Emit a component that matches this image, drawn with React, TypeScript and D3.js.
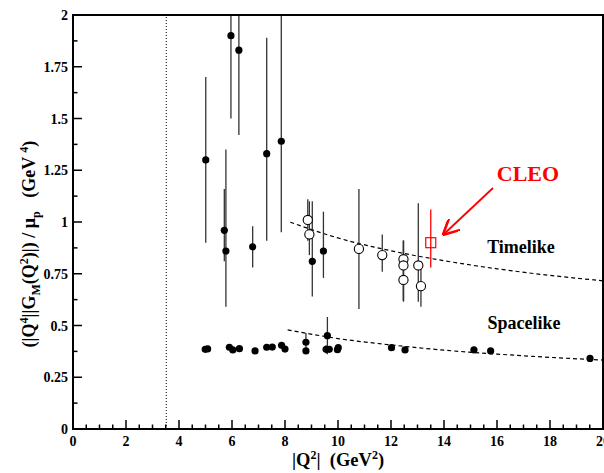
import React from "react";
import * as d3 from "d3";

// Timelike form factor, filled markers
const tlQ2 = [5.01, 5.96, 6.26, 7.31, 7.86, 5.71, 5.77, 6.78, 9.03, 9.45];
const tlVal = [1.3, 1.9, 1.83, 1.33, 1.39, 0.96, 0.86, 0.88, 0.81, 0.86];
const tlErrHi = [0.4, 0.4, 0.4, 0.56, 0.65, 0.2, 0.49, 0.1, 0.29, 0.19];
const tlErrLo = [0.4, 0.4, 0.41, 0.42, 0.44, 0.15, 0.27, 0.1, 0.17, 0.13];

// Timelike form factor, open markers
const tlOpenQ2 = [8.86, 8.92, 10.79, 11.67, 12.47, 12.47, 12.47, 13.03, 13.13];
const tlOpenVal = [1.01, 0.94, 0.87, 0.84, 0.82, 0.79, 0.72, 0.79, 0.69];
const tlOpenErrHi = [0.1, 0.16, 0.29, 0.1, 0.09, 0.12, 0.19, 0.3, 0.12];
const tlOpenErrLo = [0.1, 0.1, 0.29, 0.08, 0.2, 0.175, 0.1, 0.175, 0.1];

// CLEO measurement
const cleoQ2 = [13.5];
const cleoVal = [0.9];
const cleoErrHi = [0.16];
const cleoErrLo = [0.12];

// Spacelike form factor
const slQ2 = [4.99, 5.08, 5.9, 6.03, 6.28, 6.87, 7.31, 7.52, 7.87, 8.0, 8.79, 8.79, 9.6, 9.55, 9.67, 10.01, 9.98, 12.02, 12.53, 15.13, 15.76, 19.51];
const slVal = [0.385, 0.387, 0.395, 0.382, 0.388, 0.377, 0.395, 0.396, 0.404, 0.386, 0.419, 0.377, 0.451, 0.385, 0.385, 0.393, 0.383, 0.393, 0.382, 0.382, 0.377, 0.341];
const slErr = [0.01, 0.01, 0.01, 0.01, 0.01, 0.01, 0.01, 0.01, 0.01, 0.01, 0.045, 0.01, 0.09, 0.02, 0.01, 0.01, 0.01, 0.01, 0.01, 0.012, 0.01, 0.01];

// Dashed fit curves
const tlFitQ2 = [8.2, 10, 12, 14, 16, 18, 20];
const tlFitVal = [0.999, 0.923, 0.861, 0.813, 0.774, 0.742, 0.716];
const slFitQ2 = [8.1, 10, 12, 14, 16, 18, 20];
const slFitVal = [0.479, 0.437, 0.406, 0.381, 0.362, 0.346, 0.333];

// Threshold 4 m_p^2
const thresholdQ2 = 3.52;

const xTicks = [0, 2, 4, 6, 8, 10, 12, 14, 16, 18, 20];
const yTicks = [0, 0.25, 0.5, 0.75, 1, 1.25, 1.5, 1.75, 2];
const yTickLabels = ["0", "0.25", "0.5", "0.75", "1", "1.25", "1.5", "1.75", "2"];

const W = 604;
const H = 473;
const L = 73;
const R = 603;
const T = 15;
const B = 429;

const FONT = "'Liberation Serif', 'Times New Roman', serif";

export default function App() {
  const x = d3.scaleLinear().domain([0, 20]).range([L, R]);
  const y = d3.scaleLinear().domain([0, 2]).range([B, T]);

  const line = d3
    .line<[number, number]>()
    .x((d) => x(d[0]))
    .y((d) => y(d[1]))
    .curve(d3.curveMonotoneX);

  const xMinor = d3.range(0, 20.001, 0.5);
  const yMinor = d3.range(0, 2.001, 0.125);

  const errColor = "#333";

  return (
    <svg
      width={W}
      height={H}
      style={{ position: "absolute", left: 0, top: 0, background: "#fff" }}
      fontFamily={FONT}
    >
      <defs>
        <clipPath id="plotArea">
          <rect x={L} y={T} width={R - L} height={B - T} />
        </clipPath>
        <marker id="arrowHead" viewBox="0 0 10 10" refX="9" refY="5" markerWidth="9" markerHeight="9" orient="auto">
          <path d="M0,0 L10,5 L0,10" fill="none" stroke="#f00" strokeWidth="1.6" />
        </marker>
      </defs>

      {/* threshold line */}
      <line
        x1={x(thresholdQ2)}
        x2={x(thresholdQ2)}
        y1={B}
        y2={T}
        stroke="#000"
        strokeWidth={1}
        strokeDasharray="1,2"
      />

      <g clipPath="url(#plotArea)">
        {/* fit curves */}
        <path
          d={line(tlFitQ2.map((q, i) => [q, tlFitVal[i]]) as [number, number][]) || ""}
          fill="none"
          stroke="#000"
          strokeWidth={1.2}
          strokeDasharray="4,3"
        />
        <path
          d={line(slFitQ2.map((q, i) => [q, slFitVal[i]]) as [number, number][]) || ""}
          fill="none"
          stroke="#000"
          strokeWidth={1.2}
          strokeDasharray="4,3"
        />

        {/* error bars */}
        {tlQ2.map((q, i) => (
          <line key={"te" + i} x1={x(q)} x2={x(q)} y1={y(tlVal[i] + tlErrHi[i])} y2={y(tlVal[i] - tlErrLo[i])} stroke={errColor} strokeWidth={1.3} />
        ))}
        {tlOpenQ2.map((q, i) => (
          <line key={"oe" + i} x1={x(q)} x2={x(q)} y1={y(tlOpenVal[i] + tlOpenErrHi[i])} y2={y(tlOpenVal[i] - tlOpenErrLo[i])} stroke={errColor} strokeWidth={1.3} />
        ))}
        {slQ2.map((q, i) => (
          <line key={"se" + i} x1={x(q)} x2={x(q)} y1={y(slVal[i] + slErr[i])} y2={y(slVal[i] - slErr[i])} stroke={errColor} strokeWidth={1.3} />
        ))}
        {cleoQ2.map((q, i) => (
          <line key={"ce" + i} x1={x(q)} x2={x(q)} y1={y(cleoVal[i] + cleoErrHi[i])} y2={y(cleoVal[i] - cleoErrLo[i])} stroke="#f00" strokeWidth={1.3} />
        ))}

        {/* markers */}
        {tlQ2.map((q, i) => (
          <circle key={"tp" + i} cx={x(q)} cy={y(tlVal[i])} r={3.6} fill="#000" />
        ))}
        {tlOpenQ2.map((q, i) => (
          <circle key={"op" + i} cx={x(q)} cy={y(tlOpenVal[i])} r={4.6} fill="#fff" stroke="#000" strokeWidth={1.1} />
        ))}
        {slQ2.map((q, i) => (
          <circle key={"sp" + i} cx={x(q)} cy={y(slVal[i])} r={3.6} fill="#000" />
        ))}
        {cleoQ2.map((q, i) => (
          <rect key={"cp" + i} x={x(q) - 5} y={y(cleoVal[i]) - 5} width={10} height={10} fill="none" stroke="#f00" strokeWidth={1.2} />
        ))}
      </g>

      {/* ticks */}
      {xMinor.map((v, i) => {
        const major = Math.abs(v / 2 - Math.round(v / 2)) < 1e-6;
        return <line key={"xt" + i} x1={x(v)} x2={x(v)} y1={B} y2={B - (major ? 9 : 4.5)} stroke="#000" strokeWidth={1.5} />;
      })}
      {yMinor.map((v, i) => {
        const major = Math.abs(v / 0.25 - Math.round(v / 0.25)) < 1e-6;
        return <line key={"yt" + i} x1={L} x2={L + (major ? 9 : 4.5)} y1={y(v)} y2={y(v)} stroke="#000" strokeWidth={1.5} />;
      })}

      {/* frame */}
      <rect x={L} y={T} width={R - L} height={B - T} fill="none" stroke="#000" strokeWidth={2} />

      {/* tick labels */}
      {xTicks.map((v) => (
        <text key={"xl" + v} x={x(v)} y={B + 17} textAnchor="middle" fontSize={14} fontWeight="bold">
          {v}
        </text>
      ))}
      {yTicks.map((v, i) => (
        <text key={"yl" + v} x={L - 5} y={y(v) + 5} textAnchor="end" fontSize={14} fontWeight="bold">
          {yTickLabels[i]}
        </text>
      ))}

      {/* axis titles */}
      <text x={338} y={466} textAnchor="middle" fontSize={18.5} fontWeight="bold" xmlSpace="preserve">
        |Q<tspan dy={-7} fontSize={12}>2</tspan>
        <tspan dy={7}>{"|  (GeV"}</tspan>
        <tspan dy={-7} fontSize={12}>2</tspan>
        <tspan dy={7}>)</tspan>
      </text>
      <text
        transform="translate(35,244) rotate(-90)"
        textAnchor="middle"
        fontSize={18}
        fontWeight="bold"
        xmlSpace="preserve"
      >
        (|Q<tspan dy={-7} fontSize={12}>4</tspan>
        <tspan dy={7}>||G</tspan>
        <tspan dy={5} fontSize={12}>M</tspan>
        <tspan dy={-5}>(Q</tspan>
        <tspan dy={-7} fontSize={12}>2</tspan>
        <tspan dy={7}>)|) / μ</tspan>
        <tspan dy={5} fontSize={12}>p</tspan>
        <tspan dy={-5}>{"   (GeV "}</tspan>
        <tspan dy={-7} fontSize={12}>4</tspan>
        <tspan dy={7}>)</tspan>
      </text>

      {/* annotations */}
      <text x={521} y={253} textAnchor="middle" fontSize={18} fontWeight="bold">
        Timelike
      </text>
      <text x={524} y={329} textAnchor="middle" fontSize={18} fontWeight="bold">
        Spacelike
      </text>
      <text x={528} y={181} textAnchor="middle" fontSize={22} fontWeight="bold" fill="#f00">
        CLEO
      </text>
      <line x1={493} y1={188} x2={444} y2={234} stroke="#f00" strokeWidth={1.8} markerEnd="url(#arrowHead)" />
    </svg>
  );
}
